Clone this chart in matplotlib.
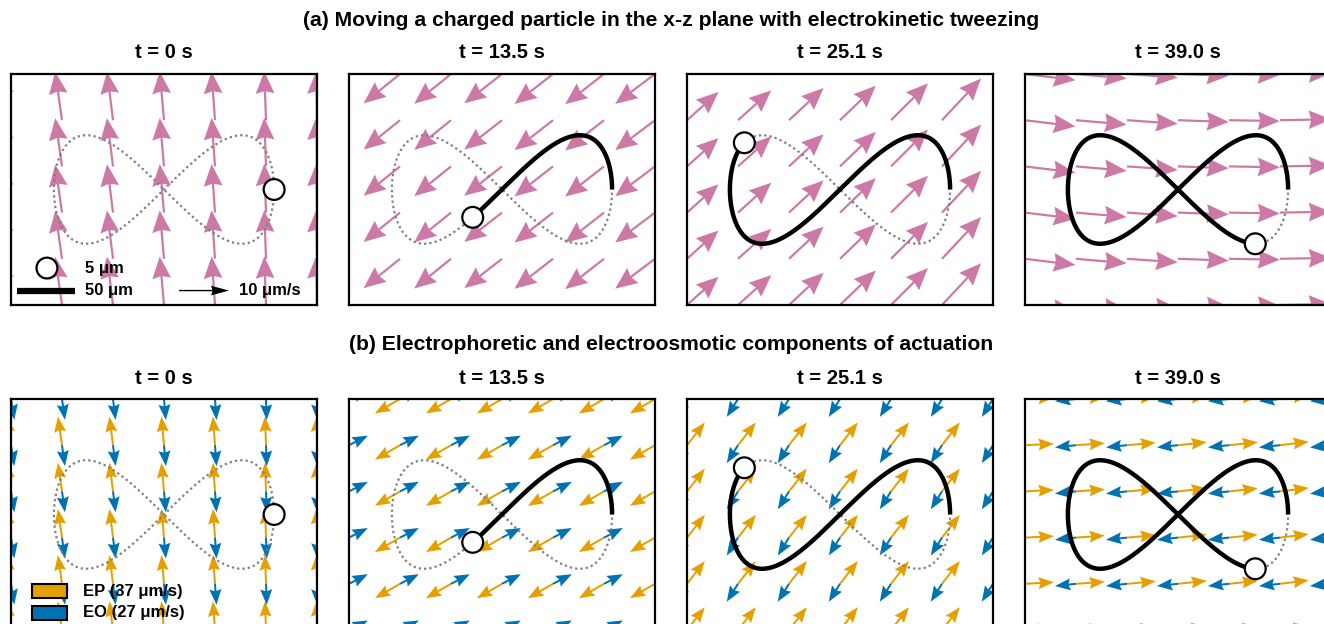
import numpy as np
import matplotlib.pyplot as plt
from matplotlib.patches import Circle, Rectangle

plt.rcParams['font.family'] = ['Liberation Sans', 'DejaVu Sans']
plt.rcParams['font.weight'] = 'bold'

PINK = '#CC79A7'
ORANGE = '#E69F00'
BLUE = '#0072B2'

times = ['t = 0 s', 't = 13.5 s', 't = 25.1 s', 't = 39.0 s']
# position of the particle along the figure-8 at each time (rad)
particle_phase = [0.0, 1.84, 3.66, 5.49]

# figure-8 size (um)
path_half_width = 95
path_half_height = 47
particle_radius = 9

# arrow grid (um)
grid_x = [-132, -88, -44, 0, 44, 88, 132]
grid_z = [100, 60, 20, -20, -60, -100]

# net velocity for each column of arrows: direction (deg), speed (um/s)
net_angle = [
    [104, 98, 97, 95, 94, 92, 91],
    [220, 219, 219, 218, 218, 218, 217],
    [42, 42, 43, 44, 45, 47, 48],
    [-7, -5, -4, -2, -1, 1, 2],
]
net_speed = [
    [9.8, 9.8, 9.8, 9.8, 9.8, 9.8, 9.8],
    [9.4, 9.4, 9.5, 9.6, 9.8, 9.9, 10.0],
    [8.5, 9.0, 9.5, 10.0, 10.5, 11.5, 12.5],
    [10.2, 10.2, 10.2, 10.2, 10.2, 10.2, 10.2],
]

# electrophoretic / electroosmotic components, direction per column (deg)
ep_angle = [
    [99, 98, 97, 95, 94, 92, 91],
    [210, 210, 210, 210, 210, 210, 210],
    [52, 52, 52, 52, 52, 52, 52],
    [3, 4, 5, 6, 6, 7, 7],
]
eo_angle = [
    [279, 278, 277, 275, 274, 272, 271],
    [27, 27, 27, 27, 27, 27, 27],
    [238, 238, 238, 238, 238, 238, 238],
    [186, 186, 186, 186, 186, 186, 186],
]
ep_speed = 37
eo_speed = 27

scale_a = 10 / 43.0     # 10 um/s -> 43 um
scale_b = 37 / 25.0     # 37 um/s -> 25 um


def field(angles, speed):
    a = np.deg2rad(np.array(angles, float))
    s = np.array(speed, float) * np.ones_like(a)
    X, Z = np.meshgrid(grid_x, grid_z)
    U = np.tile(s * np.cos(a), (len(grid_z), 1))
    V = np.tile(s * np.sin(a), (len(grid_z), 1))
    return X, Z, U, V


def draw_path(ax, phase):
    A, B = path_half_width, path_half_height
    th = np.linspace(0, 2 * np.pi, 500)
    ax.plot(A * np.cos(th), B * np.sin(2 * th), ls=(0, (1, 1.4)), color='#7f7f7f',
            lw=1.6, zorder=3)
    if phase > 0:
        tt = np.linspace(0, phase, 300)
        ax.plot(A * np.cos(tt), B * np.sin(2 * tt), color='k', lw=3.2, zorder=4,
                solid_capstyle='butt')
    ax.add_patch(Circle((A * np.cos(phase), B * np.sin(2 * phase)), particle_radius,
                        fc='white', ec='k', lw=1.6, zorder=6))


def setup(ax):
    ax.set_xlim(-132, 132)
    ax.set_ylim(-100, 100)
    ax.set_xticks([])
    ax.set_yticks([])
    for s in ax.spines.values():
        s.set_linewidth(1.6)
        s.set_zorder(10)


fig = plt.figure(figsize=(13.24, 6.24), dpi=100)
W, H = 1324.0, 624.0
lefts = [11, 349, 687, 1025]
aw, ah = 306, 231
tops = [74, 399]

axes_a, axes_b = [], []
for k in range(4):
    ax = fig.add_axes([lefts[k] / W, 1 - (tops[0] + ah) / H, aw / W, ah / H])
    axes_a.append(ax)
    ax = fig.add_axes([lefts[k] / W, 1 - (tops[1] + ah) / H, aw / W, ah / H])
    axes_b.append(ax)

for k in range(4):
    # (a) net motion
    ax = axes_a[k]
    setup(ax)
    X, Z, U, V = field(net_angle[k], net_speed[k])
    ax.quiver(X, Z, U, V, color=PINK, angles='xy', scale_units='xy', scale=scale_a,
              width=0.0072, headwidth=8.5, headlength=10, headaxislength=9, zorder=2)
    draw_path(ax, particle_phase[k])
    fig.text((lefts[k] + aw / 2) / W, 1 - 53 / H, times[k], ha='center', va='center',
             fontsize=14.5)

    # (b) EP and EO components
    ax = axes_b[k]
    setup(ax)
    X, Z, U, V = field(ep_angle[k], ep_speed)
    ax.quiver(X, Z, U, V, color=ORANGE, angles='xy', scale_units='xy', scale=scale_b,
              width=0.0065, headwidth=6.0, headlength=7.8, headaxislength=6.9, zorder=2)
    X, Z, U, V = field(eo_angle[k], eo_speed)
    ax.quiver(X, Z, U, V, color=BLUE, angles='xy', scale_units='xy', scale=scale_b,
              width=0.0065, headwidth=6.0, headlength=7.8, headaxislength=6.9, zorder=2)
    draw_path(ax, particle_phase[k])
    fig.text((lefts[k] + aw / 2) / W, 1 - 378 / H, times[k], ha='center', va='center',
             fontsize=14.5)

mid = (lefts[0] + lefts[3] + aw) / 2 / W
fig.text(mid, 1 - 20 / H, '(a) Moving a charged particle in the x-z plane with electrokinetic tweezing',
         ha='center', va='center', fontsize=15.2)
fig.text(mid, 1 - 344 / H, '(b) Electrophoretic and electroosmotic components of actuation',
         ha='center', va='center', fontsize=15.2)

# scale legend in first panel
ax = axes_a[0]
ax.add_patch(Circle((-101, -68), particle_radius, fc='white', ec='k', lw=1.6, zorder=8))
ax.text(-68, -68, '5 μm', va='center', ha='left', fontsize=12, zorder=8)
ax.plot([-127, -77], [-87.5, -87.5], color='k', lw=4.5, solid_capstyle='butt', zorder=8)
ax.text(-68, -87.5, '50 μm', va='center', ha='left', fontsize=12, zorder=8)
ax.quiver([13], [-87.5], [10], [0], color='k', angles='xy', scale_units='xy', scale=scale_a,
          width=0.0045, headwidth=7, headlength=13, headaxislength=12, zorder=8)
ax.text(65, -87.5, '10 μm/s', va='center', ha='left', fontsize=12, zorder=8)

ax = axes_b[0]
ax.add_patch(Rectangle((-114, -72), 30, 11.5, fc=ORANGE, ec='k', lw=1.5, zorder=8))
ax.add_patch(Rectangle((-114, -91), 30, 12, fc=BLUE, ec='k', lw=1.5, zorder=8))
ax.text(-70, -66.3, 'EP (37 μm/s)', va='center', ha='left', fontsize=12, zorder=8)
ax.text(-70, -85, 'EO (27 μm/s)', va='center', ha='left', fontsize=12, zorder=8)

fig.savefig('out.png', dpi=100)
